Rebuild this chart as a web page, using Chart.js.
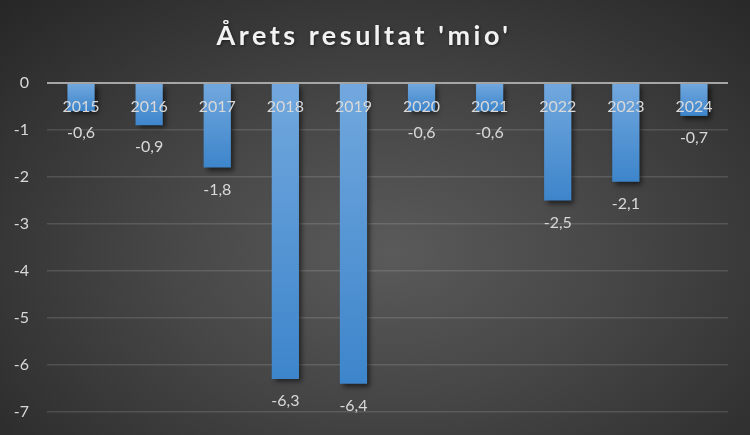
<!DOCTYPE html>
<html>
<head>
<meta charset="utf-8">
<script src="https://cdn.jsdelivr.net/npm/chart.js@4/dist/chart.umd.min.js"></script>
<style>
  html, body { margin: 0; padding: 0; }
  body {
    width: 750px; height: 435px; overflow: hidden;
    background: radial-gradient(ellipse farthest-corner at 52% 58%, #5a5a5a 0%, #474747 40%, #262626 100%);
  }
  #wrap { position: relative; width: 750px; height: 435px; }
</style>
</head>
<body>
<div id="wrap"><canvas id="c" width="750" height="435"></canvas></div>
<script>
const titleText = "Årets resultat 'mio'";
const categories = ['2015', '2016', '2017', '2018', '2019', '2020', '2021', '2022', '2023', '2024'];
const results = [-0.6, -0.9, -1.8, -6.3, -6.4, -0.6, -0.6, -2.5, -2.1, -0.7];
const yMin = -7;
const yMax = 0;

const textColor = '#d9d9d9';
const fontFamily = 'Lato, "Liberation Sans", sans-serif';

const barShadow = {
  id: 'barShadow',
  beforeDatasetsDraw(chart) {
    const c = chart.ctx;
    c.save();
    c.shadowColor = 'rgba(0,0,0,0.55)';
    c.shadowBlur = 5;
    c.shadowOffsetX = 3;
    c.shadowOffsetY = 3;
  },
  afterDatasetsDraw(chart) {
    chart.ctx.restore();
  }
};

const valueLabels = {
  id: 'valueLabels',
  afterDatasetsDraw(chart) {
    const c = chart.ctx;
    const meta = chart.getDatasetMeta(0);
    c.save();
    c.font = '16px ' + fontFamily;
    c.fillStyle = textColor;
    c.textAlign = 'center';
    c.textBaseline = 'middle';
    meta.data.forEach((bar, i) => {
      const v = chart.data.datasets[0].data[i];
      const txt = v.toFixed(1).replace('.', ',');
      c.fillText(txt, bar.x, bar.y + 22);
    });
    c.restore();
  }
};

const titleSpacing = {
  id: 'titleSpacing',
  afterLayout(chart) {
    const tb = chart.titleBlock;
    if (tb && !tb._wrapped) {
      const orig = tb.draw;
      tb.draw = function () {
        const c = this.ctx;
        c.save();
        c.letterSpacing = '3.5px';
        c.shadowColor = 'rgba(0,0,0,0.45)';
        c.shadowBlur = 3;
        c.shadowOffsetX = 1;
        c.shadowOffsetY = 1;
        orig.apply(this, arguments);
        c.restore();
      };
      tb._wrapped = true;
    }
  }
};

new Chart(document.getElementById('c'), {
  type: 'bar',
  data: {
    labels: categories,
    datasets: [{
      data: results,
      backgroundColor(ctx) {
        const chart = ctx.chart;
        const { chartArea, scales } = chart;
        if (!chartArea || ctx.type !== 'data' || !scales.y) return '#5b9bd5';
        const y0 = scales.y.getPixelForValue(0);
        const y1 = scales.y.getPixelForValue(ctx.raw);
        const g = chart.ctx.createLinearGradient(0, y0, 0, y1);
        g.addColorStop(0, '#72a8de');
        g.addColorStop(1, '#3d85cb');
        return g;
      },
      borderWidth: 0,
      categoryPercentage: 0.8,
      barPercentage: 0.5
    }]
  },
  options: {
    responsive: false,
    animation: false,
    devicePixelRatio: 1,
    layout: { padding: { left: 0, right: 22, top: 0, bottom: 23 } },
    plugins: {
      legend: { display: false },
      tooltip: { enabled: false },
      title: {
        display: true,
        text: titleText,
        color: '#f2f2f2',
        font: { family: fontFamily, size: 27, weight: 'bold', lineHeight: 1.2 },
        padding: { top: 20, bottom: 30.6 }
      }
    },
    scales: {
      x: {
        position: { y: 0 },
        grid: { display: false, drawTicks: false },
        border: { display: false },
        ticks: {
          z: 1,
          color: textColor,
          font: { family: fontFamily, size: 16 },
          padding: 14,
          maxRotation: 0
        },
        afterFit(scale) { scale.height = 0; }
      },
      y: {
        min: yMin,
        max: yMax,
        border: { display: false },
        grid: {
          drawTicks: false,
          color: (ctx) => (ctx.tick && ctx.tick.value === 0) ? '#a6a6a6' : 'rgba(255,255,255,0.13)',
          lineWidth: (ctx) => (ctx.tick && ctx.tick.value === 0) ? 2 : 1.6
        },
        ticks: {
          stepSize: 1,
          color: textColor,
          font: { family: fontFamily, size: 16 },
          padding: 18,
          callback: (v) => String(v)
        },
        afterFit(scale) {
          scale.width = 47;
          scale.paddingBottom = 0;
          scale.paddingTop = 0;
        }
      }
    }
  },
  plugins: [barShadow, valueLabels, titleSpacing]
});
</script>
</body>
</html>
